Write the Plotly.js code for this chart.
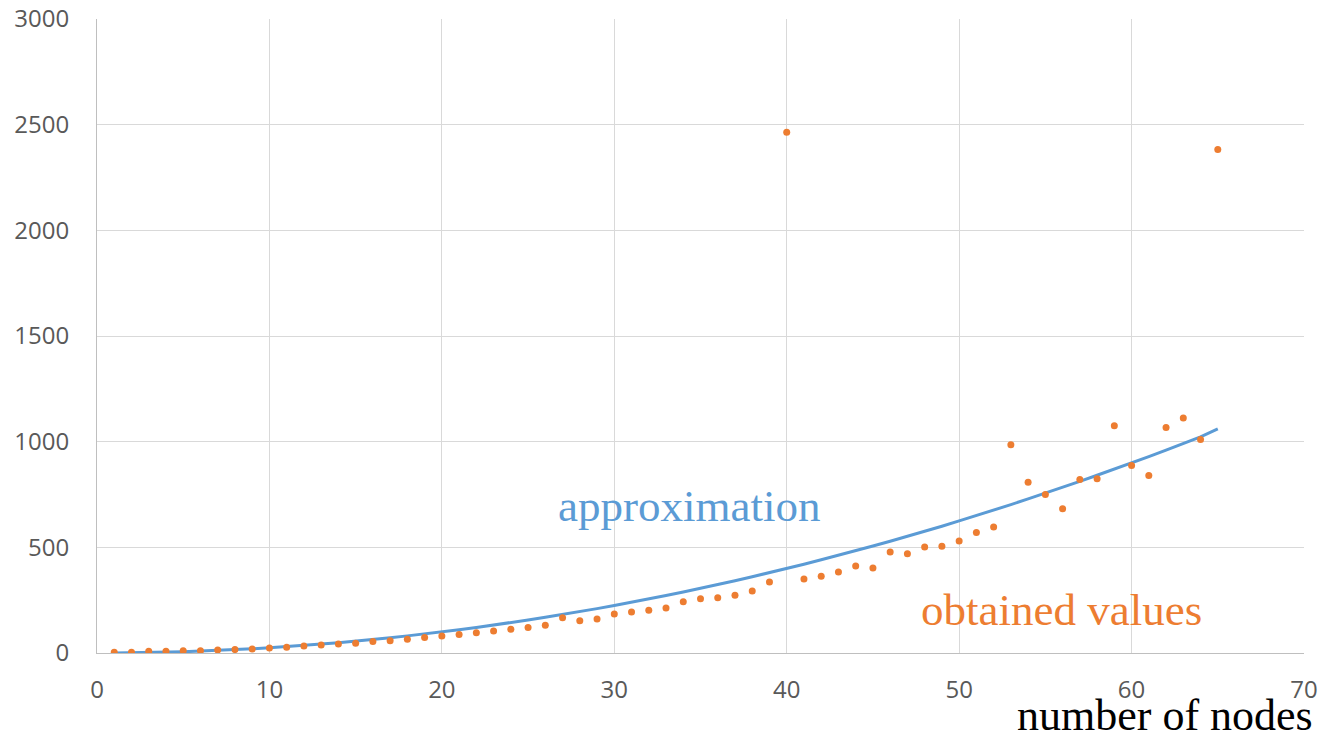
<!DOCTYPE html>
<html>
<head>
<meta charset="utf-8">
<script src="https://cdn.plot.ly/plotly-3.0.1.min.js"></script>
<style>
  html, body { margin: 0; padding: 0; background: #ffffff; }
  #chart { width: 1340px; height: 743px; }
</style>
</head>
<body>
<div id="chart"></div>
<script>
// number of nodes (x) for both series
const nodes = [1,2,3,4,5,6,7,8,9,10,11,12,13,14,15,16,17,18,19,20,21,22,23,24,25,26,27,28,29,30,31,32,33,34,35,36,37,38,39,40,41,42,43,44,45,46,47,48,49,50,51,52,53,54,55,56,57,58,59,60,61,62,63,64,65];

// obtained values (orange dots)
const obtainedValues = [3,3,8,8,11,11,14,16,19,24,27,33,38,43,46,55,58,65,73,80,88,96,104,112,121,131,167,153,161,185,194,202,213,243,257,262,273,293,336,2464,350,363,383,412,402,478,470,502,505,530,570,596,986,808,750,682,821,825,1075,887,840,1067,1112,1010,2383];

// approximation curve (blue line)
const approximation = [0,1,2,4,6,9,12,16,20,25,30,36,42,49,56,64,72,81,90,100,110,121,132,144,156,169,182,196,210,225,240,256,272,289,306,324,342,361,380,401,420,441,462,484,506,529,552,576,600,625,650,676,702,729,756,784,812,841,870,898,929,960,991,1023,1060];

// tick labels
const xTicks = [0,10,20,30,40,50,60,70];
const yTicks = [0,500,1000,1500,2000,2500,3000];

const labelApprox = "approximation";
const labelObtained = "obtained values";
const labelXAxis = "number of nodes";

const traces = [
  {
    x: nodes, y: approximation, type: "scatter", mode: "lines",
    line: { color: "#5B9BD5", width: 3 }, name: labelApprox, hoverinfo: "x+y"
  },
  {
    x: nodes, y: obtainedValues, type: "scatter", mode: "markers",
    marker: { color: "#ED7D31", size: 7 }, name: labelObtained, hoverinfo: "x+y"
  }
];

const tickFont = { family: "Open Sans, Liberation Sans, sans-serif", size: 24, color: "#595959" };

const layout = {
  width: 1340, height: 743,
  margin: { l: 97, r: 36, t: 19, b: 90 },
  paper_bgcolor: "#ffffff", plot_bgcolor: "#ffffff",
  showlegend: false,
  xaxis: {
    range: [0, 70], tickvals: xTicks, ticktext: xTicks.map(String),
    showgrid: true, gridcolor: "#D9D9D9", gridwidth: 1,
    zeroline: false, showline: true, linecolor: "#BFBFBF", linewidth: 1,
    ticks: "", tickfont: tickFont, ticklabelstandoff: 15
  },
  yaxis: {
    range: [0, 3000], tickvals: yTicks, ticktext: yTicks.map(String),
    showgrid: true, gridcolor: "#D9D9D9", gridwidth: 1,
    zeroline: false, showline: true, linecolor: "#BFBFBF", linewidth: 1,
    ticks: "", tickfont: tickFont, ticklabelstandoff: 22
  },
  annotations: [
    {
      text: labelApprox, xref: "x", yref: "y", x: 26.6, y: 695,
      xanchor: "left", yanchor: "middle", showarrow: false,
      font: { family: "Liberation Serif, Times New Roman, serif", size: 45, color: "#5B9BD5" }
    },
    {
      text: labelObtained, xref: "x", yref: "y", x: 47.7, y: 202,
      xanchor: "left", yanchor: "middle", showarrow: false,
      font: { family: "Liberation Serif, Times New Roman, serif", size: 45, color: "#ED7D31" }
    },
    {
      text: labelXAxis, xref: "paper", yref: "paper", x: 1.009, y: -0.098,
      xanchor: "right", yanchor: "middle", showarrow: false,
      font: { family: "Liberation Serif, Times New Roman, serif", size: 44, color: "#000000" }
    }
  ]
};

Plotly.newPlot("chart", traces, layout, { displayModeBar: false, staticPlot: true });
</script>
</body>
</html>
